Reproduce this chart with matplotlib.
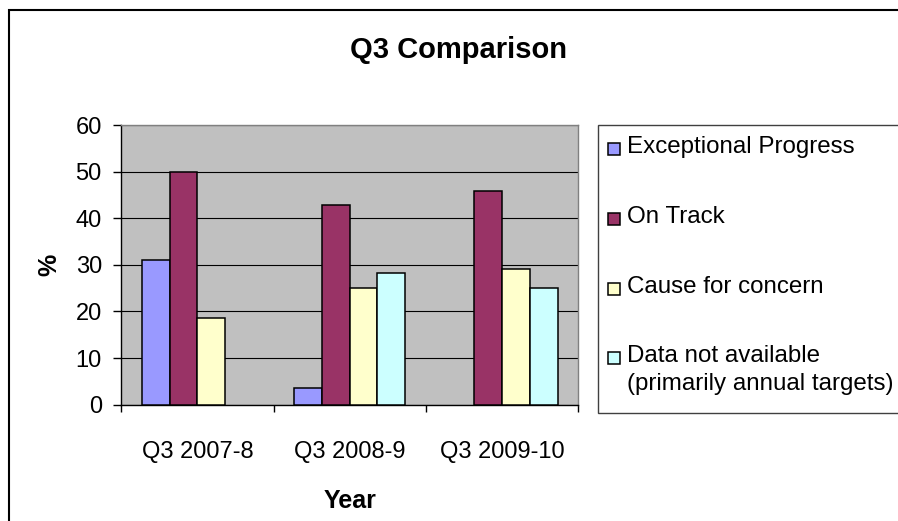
import numpy as np
import matplotlib
matplotlib.use("Agg")
import matplotlib.pyplot as plt
import matplotlib.patches as mpatches

plt.rcParams['font.family'] = ['Liberation Sans', 'DejaVu Sans']

categories = ["Q3 2007-8", "Q3 2008-9", "Q3 2009-10"]
series_names = ["Exceptional Progress", "On Track", "Cause for concern",
                "Data not available\n(primarily annual targets)"]
exceptional = [31.1, 3.6, np.nan]
on_track = [50.0, 42.9, 45.8]
concern = [18.6, 25.0, 29.1]
not_available = [np.nan, 28.3, 25.0]
colors = ["#9999FF", "#993366", "#FFFFCC", "#CCFFFF"]
yticks = [0, 10, 20, 30, 40, 50, 60]

W, H = 898, 521
fig = plt.figure(figsize=(W / 100, H / 100), dpi=100)


def fx(px):
    return px / W


def fy(py):
    return (H - py) / H


# outer chart border
fig.patches.append(mpatches.Rectangle((fx(8.5), -0.05), 1.2, fy(10.5) + 0.05,
                                      transform=fig.transFigure, fill=False,
                                      edgecolor='black', linewidth=1.5, zorder=-2))

ax = fig.add_axes([fx(121.3), fy(404.7), 457 / W, 279.7 / H])
ax.set_facecolor("#C0C0C0")

x = np.arange(len(categories))
w = 1 / 5.5
all_series = [exceptional, on_track, concern, not_available]
for i, (vals, col) in enumerate(zip(all_series, colors)):
    ax.bar(x + (i - 1.5) * w, vals, width=w, color=col, edgecolor='black',
           linewidth=1.1, zorder=3, label=series_names[i])

ax.set_xlim(-0.5, len(categories) - 0.5)
ax.set_ylim(0, 60)
ax.set_yticks(yticks)
ax.yaxis.grid(True, color='black', linewidth=0.8, zorder=1)
ax.set_axisbelow(True)

ax.set_xticks(x)
ax.set_xticklabels(categories)
ax.set_xticks(np.arange(len(categories) + 1) - 0.5, minor=True)
ax.tick_params(axis='x', which='major', length=0, pad=26, labelsize=17)
ax.tick_params(axis='x', which='minor', length=5, width=1, direction='out')
ax.tick_params(axis='y', length=6, width=1, direction='out', pad=8, labelsize=17)

for s in ['top', 'right']:
    ax.spines[s].set_color('#808080')
    ax.spines[s].set_linewidth(1)
for s in ['left', 'bottom']:
    ax.spines[s].set_color('black')
    ax.spines[s].set_linewidth(1)

ax.set_xlabel("Year", fontsize=18, fontweight='bold', va='baseline')
ax.xaxis.set_label_coords(0.5, (404.7 - 508) / 279.7)
ax.set_ylabel("%", fontsize=18, fontweight='bold', va='center', ha='center')
ax.yaxis.set_label_coords((49 - 121.3) / 457, 0.5)

fig.text(fx(459), fy(58), "Q3 Comparison", fontsize=21, fontweight='bold',
         ha='center', va='baseline')

# legend frame and entries
fig.patches.append(mpatches.Rectangle((fx(598), fy(413)), 0.5, 288 / H,
                                      transform=fig.transFigure, facecolor='white',
                                      edgecolor='#404040', linewidth=1, zorder=-1))
baselines = [153, 223, 293, 362]
for name, col, base in zip(series_names, colors, baselines):
    fig.patches.append(mpatches.Rectangle((fx(608), fy(base + 1.5)), 12 / W, 12 / H,
                                          transform=fig.transFigure, facecolor=col,
                                          edgecolor='black', linewidth=1.1, zorder=2))
    for j, line in enumerate(name.split("\n")):
        fig.text(fx(627), fy(base + 28 * j), line, fontsize=17.4,
                 ha='left', va='baseline')

fig.savefig("out.png", dpi=100)
